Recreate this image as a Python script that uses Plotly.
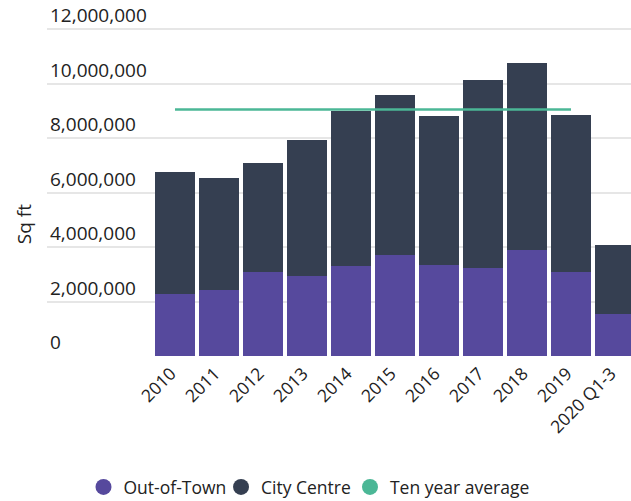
import plotly.graph_objects as go

categories = ["2010", "2011", "2012", "2013", "2014", "2015", "2016", "2017", "2018", "2019", "2020 Q1-3"]
out_of_town = [2.28e6, 2.42e6, 3.08e6, 2.94e6, 3.30e6, 3.71e6, 3.34e6, 3.23e6, 3.89e6, 3.08e6, 1.54e6]
totals = [6.75e6, 6.53e6, 7.08e6, 7.93e6, 9.00e6, 9.58e6, 8.81e6, 10.13e6, 10.75e6, 8.84e6, 4.07e6]
city_centre = [t - o for t, o in zip(totals, out_of_town)]
avg_categories = categories[:10]
ten_year_average = [9.05e6] * 10
y_ticks = [0, 2e6, 4e6, 6e6, 8e6, 10e6, 12e6]
y_tick_labels = ["0", "2,000,000", "4,000,000", "6,000,000", "8,000,000", "10,000,000", "12,000,000"]

PURPLE = "#56499d"
DARK = "#353f51"
GREEN = "#4bb796"
FONT = "Open Sans"
TXT = "#222222"

fig = go.Figure()
fig.add_trace(go.Bar(x=categories, y=out_of_town, name="Out-of-Town", marker=dict(color=PURPLE, line=dict(width=0)), showlegend=False))
fig.add_trace(go.Bar(x=categories, y=city_centre, name="City Centre", marker=dict(color=DARK, line=dict(width=0)), showlegend=False))
fig.add_trace(go.Scatter(x=avg_categories, y=ten_year_average, mode="lines", name="Ten year average",
                         line=dict(color=GREEN, width=2.5), showlegend=False))

# legend entries with circle symbols, each in its own legend box for exact spacing
legend_ids = ["legend", "legend2", "legend3"]
for name, col, lg in zip(["Out-of-Town", "City Centre", "Ten year average"], [PURPLE, DARK, GREEN], legend_ids):
    fig.add_trace(go.Scatter(x=[None], y=[None], mode="markers", name=name, legend=lg,
                             marker=dict(color=col, size=17, symbol="circle")))

def legend_box(xpos):
    return dict(orientation="h", x=xpos, xanchor="left", y=-0.397, yanchor="middle",
                font=dict(size=17.5, family=FONT, color=TXT), itemsizing="trace",
                tracegroupgap=0, itemwidth=30, bgcolor="rgba(0,0,0,0)")

fig.update_layout(
    width=631, height=501,
    margin=dict(l=47, r=0, t=26, b=145, autoexpand=False),
    barmode="stack", bargap=4 / 44,
    plot_bgcolor="white", paper_bgcolor="white",
    font=dict(family=FONT, color=TXT, size=17),
    showlegend=True,
    legend=legend_box(0.0625),
    legend2=legend_box(0.298),
    legend3=legend_box(0.5188),
    xaxis=dict(type="category", range=[-2.909, 10.364], tickangle=-45, showgrid=False,
               ticks="", tickfont=dict(size=17.5, family=FONT, color=TXT),
               ticklabelshift=-4, ticklabelstandoff=3,
               showline=False, zeroline=False, automargin=False),
    yaxis=dict(range=[0, 12.11e6], tickvals=y_ticks, ticktext=y_tick_labels,
               ticklabelposition="inside top", ticklabeloverflow="allow",
               showgrid=True, gridcolor="#e6e6e6", gridwidth=2,
               zeroline=False, showline=False, ticks="", automargin=False,
               tickfont=dict(size=19, family=FONT, color=TXT)),
    annotations=[dict(text="Sq ft", xref="paper", yref="paper", x=-0.039, y=0.40,
                      xanchor="center", yanchor="middle",
                      textangle=-90, showarrow=False, font=dict(size=19, family=FONT, color=TXT))],
)

fig.write_html("out.html", config={"displayModeBar": False},
               post_script="document.body.style.margin='0';document.body.style.padding='0';")
